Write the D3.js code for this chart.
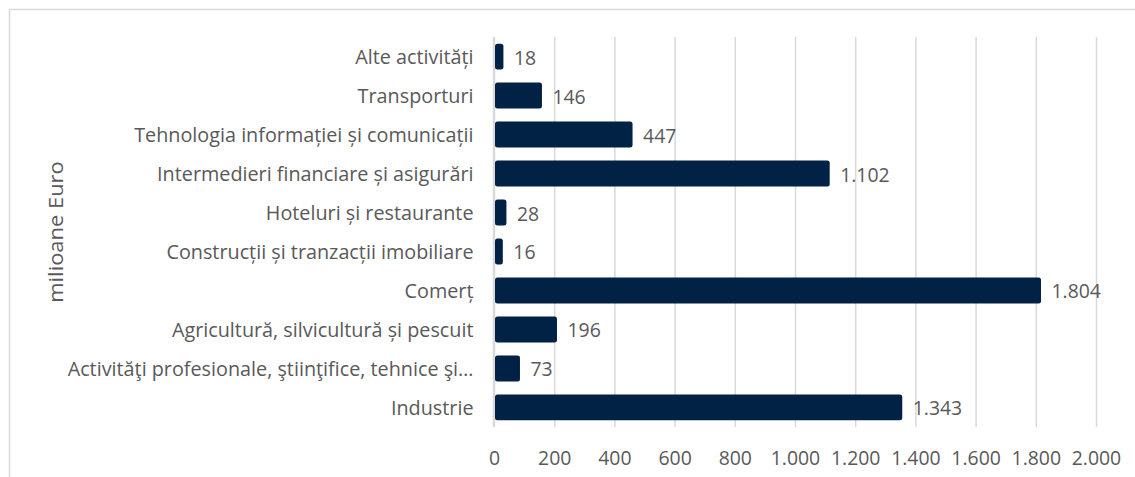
<!DOCTYPE html>
<html>
<head>
<meta charset="utf-8">
<script src="https://cdn.jsdelivr.net/npm/d3@7"></script>
<style>
  html, body { margin: 0; padding: 0; background: #fff; }
  svg { display: block; font-family: "Open Sans", sans-serif; }
  .lbl { fill: #595959; font-size: 19.4px; }
  .cat { font-size: 19.8px; }
</style>
</head>
<body>
<div id="chart"></div>
<script>
// Investments by activity sector (milioane Euro), top to bottom as in the chart
var categories = [
  'Alte activități',
  'Transporturi',
  'Tehnologia informației și comunicații',
  'Intermedieri financiare și asigurări',
  'Hoteluri și restaurante',
  'Construcții și tranzacții imobiliare',
  'Comerț',
  'Agricultură, silvicultură și pescuit',
  'Activităţi profesionale, ştiinţifice, tehnice şi…',
  'Industrie'
];
var values = [18, 146, 447, 1102, 28, 16, 1804, 196, 73, 1343];
var xTicks = [0, 200, 400, 600, 800, 1000, 1200, 1400, 1600, 1800, 2000];
var yTitle = 'milioane Euro';

(function () {
  var width = 1135, height = 477;
  var plot = { left: 494.5, right: 1096.5, top: 37, bottom: 427 };
  var barColor = '#012245', grid = '#d9d9d9';

  // Romanian number format: dot as thousands separator
  var fmt = d3.formatLocale({ decimal: ',', thousands: '.', grouping: [3], currency: ['', ' €'] }).format(',d');

  var svg = d3.select('#chart').append('svg')
    .attr('width', width).attr('height', height);

  // chart area frame (right/bottom edges fall outside the picture)
  svg.append('rect')
    .attr('x', 9.5).attr('y', 9.5).attr('width', width + 20).attr('height', height + 20)
    .attr('fill', 'none').attr('stroke', grid).attr('stroke-width', 1.5);

  var x = d3.scaleLinear().domain([0, 2000]).range([plot.left, plot.right]);
  var y = d3.scaleBand().domain(categories).range([plot.top, plot.bottom])
    .paddingInner(0.335).paddingOuter(0.17);

  // vertical gridlines
  svg.append('g').selectAll('line').data(xTicks).enter().append('line')
    .attr('x1', function (d) { return x(d); }).attr('x2', function (d) { return x(d); })
    .attr('y1', plot.top).attr('y2', plot.bottom)
    .attr('stroke', grid).attr('stroke-width', 1.5);

  // category axis line
  svg.append('line')
    .attr('x1', x(0) - 1).attr('x2', x(0) - 1)
    .attr('y1', plot.top).attr('y2', plot.bottom)
    .attr('stroke', grid).attr('stroke-width', 1.5);

  var rows = categories.map(function (c, i) { return { cat: c, v: values[i] }; });

  svg.append('g').selectAll('rect').data(rows).enter().append('rect')
    .attr('x', x(0) + 0.5)
    .attr('y', function (d) { return y(d.cat); })
    .attr('width', function (d) { return x(d.v) - x(0) + 3; })
    .attr('height', y.bandwidth())
    .attr('rx', 2.5)
    .attr('fill', barColor);

  // data labels
  svg.append('g').selectAll('text').data(rows).enter().append('text')
    .attr('class', 'lbl')
    .attr('x', function (d) { return x(d.v) + 14; })
    .attr('y', function (d) { return y(d.cat) + y.bandwidth() / 2 + 8; })
    .text(function (d) { return fmt(d.v); });

  // category labels
  svg.append('g').selectAll('text').data(categories).enter().append('text')
    .attr('class', 'lbl cat')
    .attr('text-anchor', 'end')
    .attr('x', x(0) - 21)
    .attr('y', function (c) { return y(c) + y.bandwidth() / 2 + 7.5; })
    .text(function (c) { return c; });

  // value tick labels
  svg.append('g').selectAll('text').data(xTicks).enter().append('text')
    .attr('class', 'lbl')
    .attr('text-anchor', 'middle')
    .attr('x', function (d) { return x(d); })
    .attr('y', 465)
    .text(function (d) { return fmt(d); });

  // axis title (stretched along its length like the source)
  svg.append('text')
    .attr('class', 'lbl')
    .attr('text-anchor', 'middle')
    .attr('transform', 'translate(62.5,232) rotate(-90) scale(1.13,1)')
    .text(yTitle);
})();
</script>
</body>
</html>
